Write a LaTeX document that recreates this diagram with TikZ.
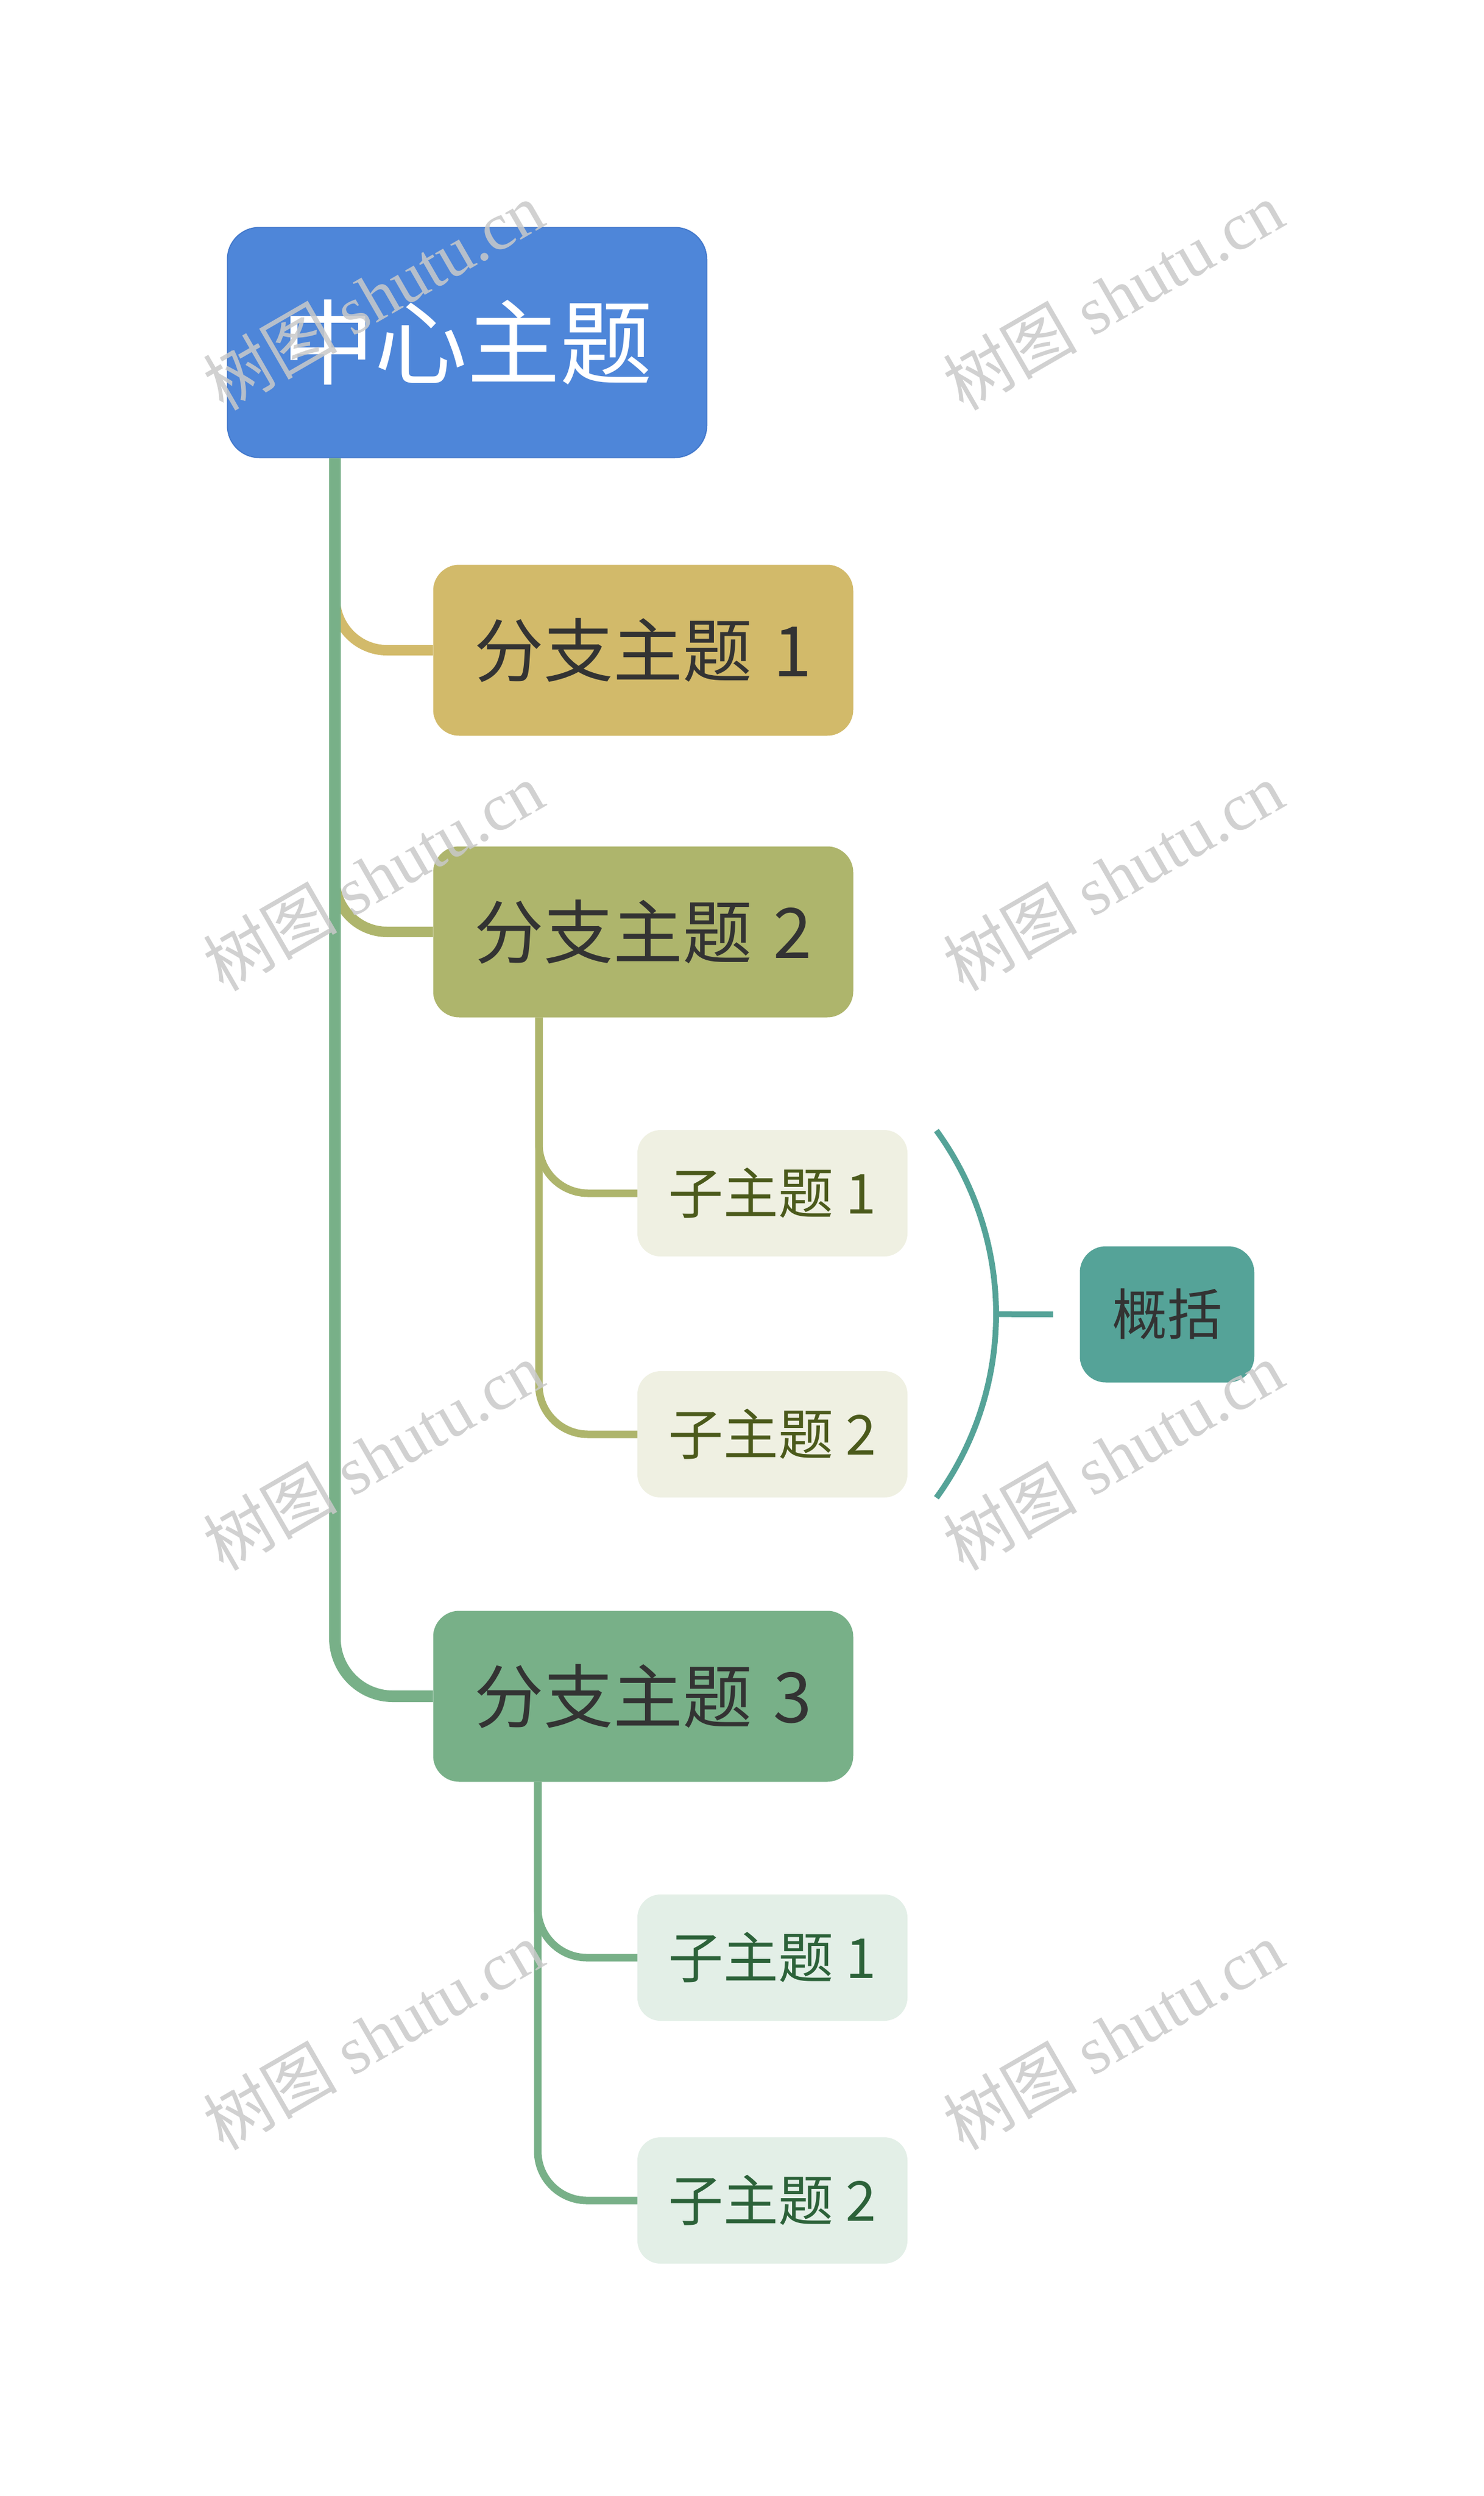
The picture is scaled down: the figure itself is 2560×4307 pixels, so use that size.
\documentclass[tikz,border=0pt]{standalone}
\usepackage{fontspec}
\setmainfont{Noto Sans CJK SC}
\newfontfamily\wmcjk{Noto Sans CJK SC}
\newfontfamily\wmlat{Liberation Serif}
\usetikzlibrary{calc}
\definecolor{cblue}{HTML}{4E86D9}
\definecolor{cblueedge}{HTML}{4379CC}
\definecolor{cgold}{HTML}{D2BA6A}
\definecolor{colive}{HTML}{AEB56C}
\definecolor{cgreen}{HTML}{78B088}
\definecolor{cteal}{HTML}{55A398}
\definecolor{ctext}{HTML}{333333}
\definecolor{csubolivefill}{HTML}{EFF0E2}
\definecolor{csubolivetext}{HTML}{4B5A1B}
\definecolor{csubgreenfill}{HTML}{E3EFE7}
\definecolor{csubgreentext}{HTML}{2C6239}
\definecolor{wmgray}{HTML}{C9C9C9}
\begin{document}
\begin{tikzpicture}[x=1pt,y=-1pt,
  centralbox/.style={fill=cblue, draw=cblueedge, line width=2pt, rounded corners=55pt,
    minimum width=827pt, minimum height=397pt, inner sep=0pt, text=white,
    font=\fontsize{160}{165}\selectfont},
  branchbox/.style={rounded corners=45pt, minimum width=725pt, minimum height=295pt,
    inner sep=0pt, text=ctext, font=\fontsize{120}{126}\selectfont},
  subbox/.style={rounded corners=40pt, minimum width=466pt, minimum height=218pt,
    inner sep=0pt, font=\fontsize{95}{100}\selectfont},
  sumbox/.style={fill=cteal, rounded corners=45pt, minimum width=301pt, minimum height=235pt,
    inner sep=0pt, text=ctext, font=\fontsize{95}{100}\selectfont},
  conn/.style={line width=18pt, rounded corners=90pt},
  trunkline/.style={line width=20pt, rounded corners=100pt, draw=cgreen},
  subconn/.style={line width=13pt, rounded corners=85pt},
  bracketline/.style={line width=10pt, draw=cteal},
  wm/.style={rotate=30, text=wmgray, opacity=0.85, inner sep=0pt,
    font=\fontsize{116}{120}\selectfont}
]
\useasboundingbox[fill=white] (0,0) rectangle (2560,4307);

% nodes
\node[centralbox] (c) at (806,591) {中心主题};
\node[branchbox, fill=cgold] (b1) at (1110,1122) {分支主题\hspace{0.3em}1};
\node[branchbox, fill=colive] (b2) at (1110,1608) {分支主题\hspace{0.3em}2};
\node[branchbox, fill=cgreen] (b3) at (1110,2927) {分支主题\hspace{0.3em}3};
\node[subbox, fill=csubolivefill, text=csubolivetext] (s21) at (1333,2059) {子主题 1};
\node[subbox, fill=csubolivefill, text=csubolivetext] (s22) at (1333,2475) {子主题 2};
\node[subbox, fill=csubgreenfill, text=csubgreentext] (s31) at (1333,3378) {子主题 1};
\node[subbox, fill=csubgreenfill, text=csubgreentext] (s32) at (1333,3797) {子主题 2};
\node[sumbox] (sum) at (2014,2268) {概括};

% helper coordinates
\coordinate (tx) at (578,0);
\coordinate (sx2) at (930,0);
\coordinate (sx3) at (928,0);
\coordinate (bx) at (1616,0);

% branch connectors
\draw[conn, draw=cgold] (tx |- b1.north) |- (b1.west);
\draw[conn, draw=colive] (tx |- b2.north) |- (b2.west);
% trunk
\draw[trunkline] (c.south -| tx) |- (b3.west);

% sub connectors
\coordinate (b2s) at (b2.south -| sx2);
\draw[subconn, draw=colive] (b2s) |- (s21.west);
\draw[subconn, draw=colive] (b2s) |- (s22.west);
\coordinate (b3s) at (b3.south -| sx3);
\draw[subconn, draw=cgreen] (b3s) |- (s31.west);
\draw[subconn, draw=cgreen] (b3s) |- (s32.west);

% summary bracket
\coordinate (brt) at ($(s21.north -| bx)+(0,1)$);
\draw[bracketline] (brt) arc[start angle=-36, end angle=0, radius=539] coordinate (brm)
  arc[start angle=0, end angle=36, radius=539];
\coordinate (sumin) at ($(sum.west)+(-46,0)$);
\draw[bracketline] (brm) -- (sumin);

% watermarks
\foreach \wy [count=\i] in {510,1512,2512,3512}{
  \node[wm] (wl\i) at (644,\wy) {{\wmcjk 树图} {\wmlat shutu.cn}};
  \node[wm] (wr\i) at (1921,\wy) {{\wmcjk 树图} {\wmlat shutu.cn}};
}
\end{tikzpicture}
\end{document}
